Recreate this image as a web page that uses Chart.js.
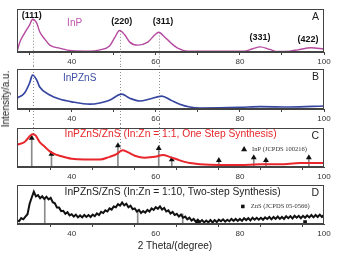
<!DOCTYPE html>
<html>
<head>
<meta charset="utf-8">
<script src="https://cdn.jsdelivr.net/npm/chart.js@4.4.0/dist/chart.umd.min.js"></script>
<style>
  body { margin: 0; width: 342px; height: 256px; background: #fff; position: relative; overflow: hidden;
         font-family: "Liberation Sans", Arial, sans-serif; }
  canvas { position: absolute; left: 0; }
  .lbl { position: absolute; white-space: nowrap; color: #222; font-size: 10px; line-height: 1; }
</style>
</head>
<body>
<canvas id="panelA" width="342" height="66" style="top:0px"></canvas>
<canvas id="panelB" width="342" height="58" style="top:66px"></canvas>
<canvas id="panelC" width="342" height="57" style="top:124px"></canvas>
<canvas id="panelD" width="342" height="60" style="top:181px"></canvas>
<div class="lbl" style="left:6px; top:99px; transform: translate(-50%,-50%) rotate(-90deg);">Intensity/a.u.</div>
<div class="lbl" style="left:175px; top:246px; transform: translate(-50%,-50%);">2 Theta/(degree)</div>

<script>
  // x axis
  const xMin = 27;
  const xMax = 100;
  const xTicks = [30, 40, 50, 60, 70, 80, 90, 100];
  const xLabels = [40, 60, 80, 100];

  // peak positions marked with dotted guides
  const guideX = [30.8, 51.5, 60.8];

  // A: InP
  const aX = [27, 27.6, 28.8, 30, 30.7, 31.7, 32.4, 33.6, 34.8, 37.1, 40, 44.3, 46.7, 49, 50.2, 51.4, 52.6, 53.8, 55.7, 58.1, 59.8, 60.7, 62.1, 63.6, 65.2, 67.6, 81, 82.9, 84.8, 87.1, 89, 91.9, 93.8, 96.9, 100];
  const aY = [0, 21, 44, 63, 76, 67, 47, 30, 16, 9, 3, 2, 5, 14, 33, 50, 40, 23, 16, 23, 40, 46, 35, 21, 9, 2, 2, 7, 12, 6, 1, 2, 5, 10, 7];

  // B: InPZnS
  const bX = [27, 28.8, 30, 30.7, 31.7, 32.4, 34.8, 37.1, 40, 44.3, 46.7, 49, 51.9, 53.8, 56.2, 58.6, 61.4, 63.6, 65.7, 68.1, 70.5, 80, 84.8, 91.9, 100];
  const bY = [27, 40, 65, 85, 72, 55, 35, 25, 18, 12, 15, 22, 37, 27, 20, 25, 32, 22, 12, 5, 2.5, 4, 6, 5, 7.5];

  // C: InPZnS/ZnS one step
  const cX = [27, 28.8, 30.7, 31.4, 32.4, 33.6, 34.8, 36, 37.1, 40, 43.1, 46.7, 49, 50.7, 52.1, 53.3, 55, 57.4, 59.8, 61.7, 63.3, 65.7, 68.1, 70.5, 75.2, 80, 84.8, 89.5, 94.3, 100];
  const cY = [57, 64, 84, 81, 64, 52, 40, 33, 29, 21, 19, 19, 26, 33, 43, 38, 29, 24, 26, 31, 26, 17, 10, 7, 5, 5, 7, 7, 10, 10];

  // InP reference lines (JCPDS 100216)
  const inpX = [30.5, 35.2, 51, 60.7, 63.8, 75, 83.3, 86.2, 96.4];
  const inpY = [74, 33, 55, 48, 19, 17, 24, 17, 24];

  // D: InPZnS/ZnS two step (noisy scan)
  const dX = [27, 27.5, 28, 28.5, 29, 29.5, 30, 30.5, 31, 31.5, 32, 32.5, 33, 33.5, 34, 34.5, 35, 35.5, 36, 36.5,
    37, 37.5, 38, 38.5, 39, 39.5, 40, 40.5, 41, 41.5, 42, 42.5, 43, 43.5, 44, 44.5, 45, 45.5, 46, 46.5,
    47, 47.5, 48, 48.5, 49, 49.5, 50, 50.5, 51, 51.5, 52, 52.5, 53, 53.5, 54, 54.5, 55, 55.5, 56, 56.5,
    57, 57.5, 58, 58.5, 59, 59.5, 60, 60.5, 61, 61.5, 62, 62.5, 63, 63.5, 64, 64.5, 65, 65.5, 66, 66.5,
    67, 67.5, 68, 68.5, 69, 69.5, 70, 70.5, 71, 71.5, 72, 72.5, 73, 73.5, 74, 74.5, 75, 75.5, 76, 76.5,
    77, 77.5, 78, 78.5, 79, 79.5, 80, 80.5, 81, 81.5, 82, 82.5, 83, 83.5, 84, 84.5, 85, 85.5, 86, 86.5,
    87, 87.5, 88, 88.5, 89, 89.5, 90, 90.5, 91, 91.5, 92, 92.5, 93, 93.5, 94, 94.5, 95, 95.5, 96, 96.5,
    97, 97.5, 98, 98.5, 99, 99.5, 100];
  const dY = [10, 7, 15, 12, 19, 25, 52, 68, 83, 71, 74, 66, 71, 64, 70, 63, 67, 56, 53, 42,
    42, 33, 34, 26, 30, 22, 25, 19, 24, 17, 22, 17, 23, 18, 23, 18, 24, 20, 27, 23,
    31, 28, 35, 32, 40, 37, 45, 43, 51, 47, 55, 48, 52, 43, 47, 38, 40, 32, 36, 28,
    33, 29, 36, 32, 40, 36, 43, 39, 45, 37, 41, 32, 35, 27, 31, 23, 26, 19, 24, 16,
    19, 12, 16, 9, 13, 6, 11, 5, 10, 4, 9, 4, 10, 4, 10, 5, 11, 7, 12, 6,
    11, 7, 13, 8, 13, 8, 13, 8, 15, 10, 15, 9, 16, 11, 16, 11, 16, 11, 17, 13,
    18, 12, 18, 13, 19, 13, 18, 13, 20, 15, 20, 14, 21, 16, 21, 15, 21, 16, 22, 17,
    23, 17, 23, 18, 24, 18, 24];

  // ZnS reference lines (JCPDS 05-0566)
  const znsX = [33.6, 55.7, 66.4, 70, 95.5];
  const znsY = [66, 36, 26, 5, 5];

  const FONT = '"Liberation Sans", Arial, sans-serif';
  const SERIF = '"Liberation Serif", "Times New Roman", serif';

  function pts(xs, ys) {
    return xs.map((x, i) => ({ x: x, y: ys[i] }));
  }

  // y pixel of the first dataset at a given x value
  function curveY(chart, v) {
    const p = chart.getDatasetMeta(0).data;
    const px = chart.scales.x.getPixelForValue(v);
    for (let i = 1; i < p.length; i++) {
      if (p[i].x >= px) {
        const a = p[i - 1], b = p[i];
        return a.y + (b.y - a.y) * (px - a.x) / (b.x - a.x);
      }
    }
    return p[p.length - 1].y;
  }

  const decor = {
    id: "decor",
    beforeDatasetsDraw(chart, args, opts) {
      const ctx = chart.ctx;
      const xs = chart.scales.x;
      ctx.save();
      ctx.strokeStyle = "#8c8c8c";
      ctx.lineWidth = 1;
      ctx.setLineDash([1, 2]);
      (opts.guides || []).forEach((g) => {
        const px = Math.round(xs.getPixelForValue(g)) + 0.5;
        const y0 = opts.from === "curve" ? curveY(chart, g) : 0;
        const y1 = opts.to === "curve" ? curveY(chart, g) : chart.height;
        ctx.beginPath();
        ctx.moveTo(px, y0);
        ctx.lineTo(px, y1);
        ctx.stroke();
      });
      ctx.restore();
    },
    afterDraw(chart, args, opts) {
      const ctx = chart.ctx;
      const a = chart.chartArea;
      const xs = chart.scales.x, ys = chart.scales.y;
      ctx.save();
      // box
      ctx.strokeStyle = "#444";
      ctx.lineWidth = 1;
      ctx.strokeRect(a.left + 0.5, a.top + 0.5, a.right - a.left - 1, a.bottom - a.top - 1);
      ctx.textBaseline = "middle";
      // panel letter
      ctx.fillStyle = "#222";
      ctx.font = "10.5px " + FONT;
      ctx.textAlign = "right";
      ctx.fillText(opts.letter, a.right - 5, a.top + 8);
      // labels
      (opts.texts || []).forEach((t) => {
        ctx.fillStyle = t.color || "#111";
        ctx.font = t.font;
        ctx.textAlign = t.align || "center";
        ctx.fillText(t.text, xs.getPixelForValue(t.x), ys.getPixelForValue(t.y));
      });
      // reference key
      if (opts.key) {
        const k = opts.key;
        const kx = xs.getPixelForValue(k.x), ky = ys.getPixelForValue(k.y);
        ctx.fillStyle = "#111";
        ctx.strokeStyle = "#111";
        Chart.helpers.drawPoint(ctx, { pointStyle: k.marker, radius: k.marker === "rect" ? 2.5 : 3.5, rotation: 0, borderWidth: 0 }, kx, ky);
        ctx.fillStyle = "#333";
        ctx.font = "6.5px " + SERIF;
        ctx.textAlign = "left";
        ctx.fillText(k.text, kx + 8, ky);
      }
      ctx.restore();
    },
  };

  function makePanel(id, pad, datasets, deco) {
    return new Chart(document.getElementById(id), {
      type: "line",
      data: { datasets: datasets },
      options: {
        responsive: false,
        animation: false,
        devicePixelRatio: 1,
        layout: { padding: { left: 17, right: 18, top: pad[0], bottom: pad[1] } },
        plugins: { legend: { display: false }, tooltip: { enabled: false }, decor: deco },
        elements: { point: { radius: 0 } },
        scales: {
          x: {
            type: "linear",
            min: xMin,
            max: xMax,
            offset: false,
            afterBuildTicks: (s) => { s.ticks = xTicks.map((v) => ({ value: v })); },
            afterFit: (s) => { s.height = 14; },
            ticks: {
              autoSkip: false,
              maxRotation: 0,
              padding: 2,
              color: "#333",
              font: { size: 8, family: FONT },
              callback: (v) => (xLabels.includes(v) ? String(v) : ""),
            },
            grid: { drawOnChartArea: false, tickLength: 3, color: "#444" },
            border: { color: "#444" },
          },
          y: { display: false, min: 0, max: 100 },
        },
      },
      plugins: [decor],
    });
  }

  const boldF = "bold 9px " + FONT;
  const titleF = "10.3px " + FONT;

  makePanel("panelA", [9, 0], [
    { data: pts(aX, aY), borderColor: "#b5489f", borderWidth: 1.4, cubicInterpolationMode: "monotone", fill: false },
  ], {
    letter: "A", guides: guideX, from: "curve", to: "bottom",
    texts: [
      { text: "(111)", x: 30.5, y: 84, font: boldF },
      { text: "(220)", x: 51.9, y: 72, font: boldF },
      { text: "(311)", x: 61.7, y: 72, font: boldF },
      { text: "(331)", x: 84.8, y: 33, font: boldF },
      { text: "(422)", x: 96.2, y: 30, font: boldF },
      { text: "InP", x: 40.7, y: 67, font: "10px " + FONT, color: "#bf55ab" },
    ],
  });

  makePanel("panelB", [3, 1], [
    { data: pts(bX, bY), borderColor: "#3545a0", borderWidth: 1.7, cubicInterpolationMode: "monotone", fill: false },
  ], {
    letter: "B", guides: guideX, from: "top", to: "bottom",
    texts: [{ text: "InPZnS", x: 41.9, y: 77, font: "10px " + FONT, color: "#3d4da6" }],
  });

  makePanel("panelC", [1, 0], [
    { data: pts(cX, cY), borderColor: "#e8262b", borderWidth: 2, cubicInterpolationMode: "monotone", fill: false, order: 0 },
    { type: "line", data: pts(inpX, inpY), showLine: false, pointStyle: "triangle", pointRadius: 3.4, pointBorderWidth: 0, pointBackgroundColor: "#111", order: 1 },
    { type: "bar", data: pts(inpX, inpY), backgroundColor: "#8a8a8a", barThickness: 1, order: 2 },
  ], {
    letter: "C", guides: guideX, from: "top", to: "curve",
    texts: [{ text: "InPZnS/ZnS (In:Zn = 1:1, One Step Synthesis)", x: 38.3, y: 83, font: titleF, color: "#e8262b", align: "left" }],
    key: { marker: "triangle", x: 81, y: 45, text: "InP (JCPDS 100216)" },
  });

  makePanel("panelD", [1, 3], [
    { data: pts(dX, dY), borderColor: "#111", borderWidth: 2, tension: 0, fill: false, order: 0 },
    {
      type: "line", data: pts(znsX, znsY), showLine: false, pointStyle: "rect",
      // markers of the taller lines sit under the scan and are not seen
      pointRadius: (c) => (znsY[c.dataIndex] > 10 ? 0 : 2.6),
      pointBorderWidth: 0, pointBackgroundColor: "#111", order: -1,
    },
    { type: "bar", data: pts(znsX, znsY), backgroundColor: "#8a8a8a", barThickness: 1, order: 2 },
  ], {
    letter: "D",
    texts: [{ text: "InPZnS/ZnS (In:Zn = 1:10, Two-step Synthesis)", x: 38.3, y: 81, font: titleF, color: "#222", align: "left" }],
    key: { marker: "rect", x: 80.7, y: 45, text: "ZnS (JCPDS 05-0566)" },
  });
</script>
</body>
</html>
